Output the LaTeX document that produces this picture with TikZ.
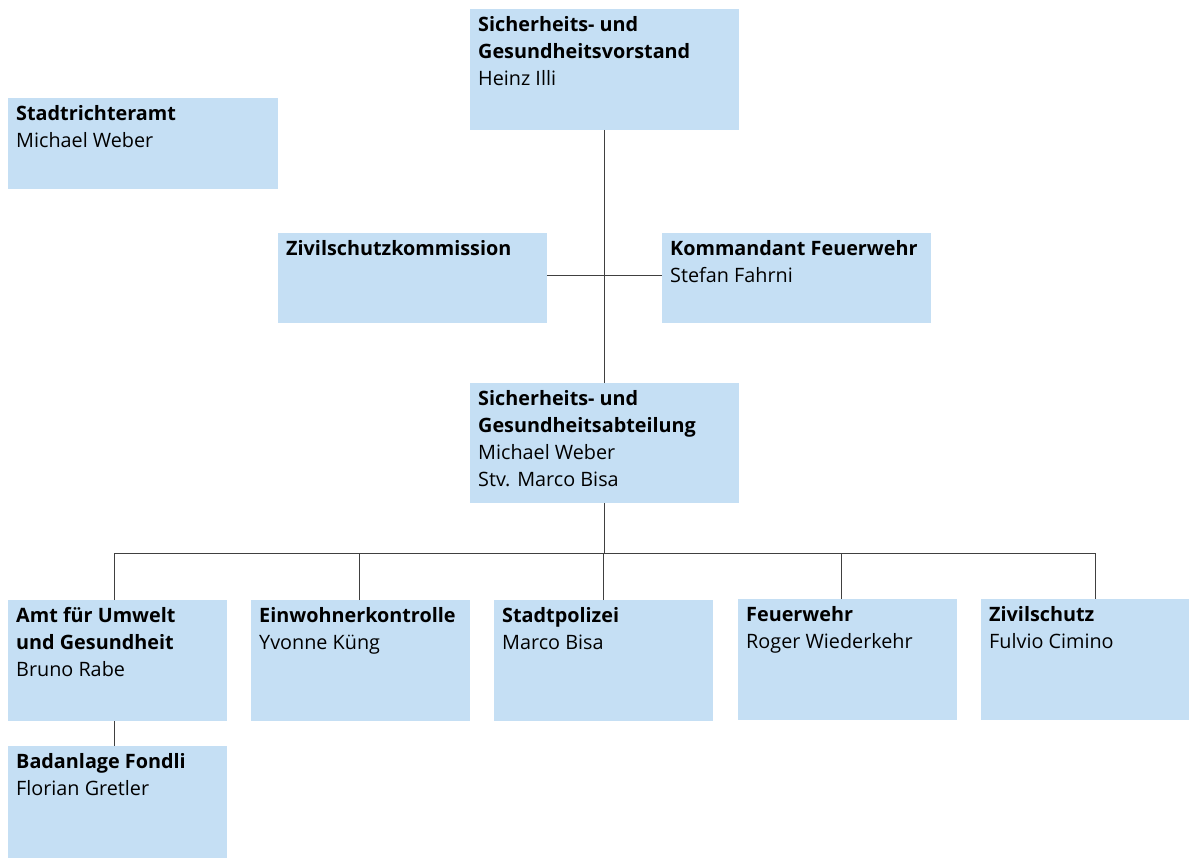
\documentclass[tikz,border=0pt]{standalone}
\usepackage{fontspec}
\setmainfont{Open Sans}
\definecolor{boxblue}{HTML}{C5DFF4}
\definecolor{linegray}{HTML}{404040}
% \orgunit{name}{left}{top}{right}{bottom}{text}
\newcommand\orgunit[6]{%
  \node[orgbox, minimum width={#4-#2}, minimum height={#5-#3}] (#1) at (#2,#3) {};
  \node[orgtext] (#1-t) at (#2+8,#3+6) {\rule{0pt}{16pt}#6};
}
\begin{document}
\begin{tikzpicture}[x=1pt,y=-1pt,
  orgbox/.style={draw=none, fill=boxblue, inner sep=0pt, outer sep=0pt, anchor=north west},
  orgtext/.style={inner sep=0pt, anchor=north west, align=left,
    font=\fontsize{19.8}{27}\selectfont, text=black},
  link/.style={draw=linegray, line width=1pt}]
\useasboundingbox (0,0) rectangle (1189,858);

\coordinate (bus) at (604.5,553);

\orgunit{vorstand}{470}{9}{739}{130}{\textbf{Sicherheits- und}\\\textbf{Gesundheitsvorstand}\\Heinz Illi}
\orgunit{richter}{8}{98}{278}{189}{\textbf{Stadtrichteramt}\\Michael Weber}
\orgunit{zkomm}{278}{233}{547}{323}{\textbf{Zivilschutzkommission}}
\orgunit{kdt}{662}{233}{931}{323}{\textbf{Kommandant Feuerwehr}\\Stefan Fahrni}
\orgunit{abteilung}{470}{383}{739}{503}{\textbf{Sicherheits- und}\\\textbf{Gesundheitsabteilung}\\Michael Weber\\Stv. Marco Bisa}
\orgunit{amt}{8}{600}{227}{721}{\textbf{Amt für Umwelt}\\\textbf{und Gesundheit}\\Bruno Rabe}
\orgunit{einw}{251}{600}{470}{721}{\textbf{Einwohnerkontrolle}\\Yvonne Küng}
\orgunit{polizei}{494}{600}{713}{721}{\textbf{Stadtpolizei}\\Marco Bisa}
\orgunit{fw}{738}{599}{957}{720}{\textbf{Feuerwehr}\\Roger Wiederkehr}
\orgunit{zs}{981}{599}{1209}{720}{\textbf{Zivilschutz}\\Fulvio Cimino}
\orgunit{bad}{8}{746}{227}{858}{\textbf{Badanlage Fondli}\\Florian Gretler}

\draw[link] (vorstand.south) -- (abteilung.north);
\draw[link] ([yshift=2pt]zkomm.east) -- ([yshift=2pt]kdt.west);
\draw[link] (abteilung.south) -- (bus);
\draw[link] ([xshift=-3pt]amt.north) |- (bus);
\draw[link] (bus) -| (zs.north);
\draw[link] ([xshift=-1pt]einw.north) -- ([xshift=-1pt]einw.north |- bus);
\draw[link] (polizei.north) -- (polizei.north |- bus);
\draw[link] ([xshift=-6pt]fw.north) -- ([xshift=-6pt]fw.north |- bus);
\draw[link] ([xshift=-3pt]amt.south) -- ([xshift=-3pt]bad.north);
\end{tikzpicture}
\end{document}
